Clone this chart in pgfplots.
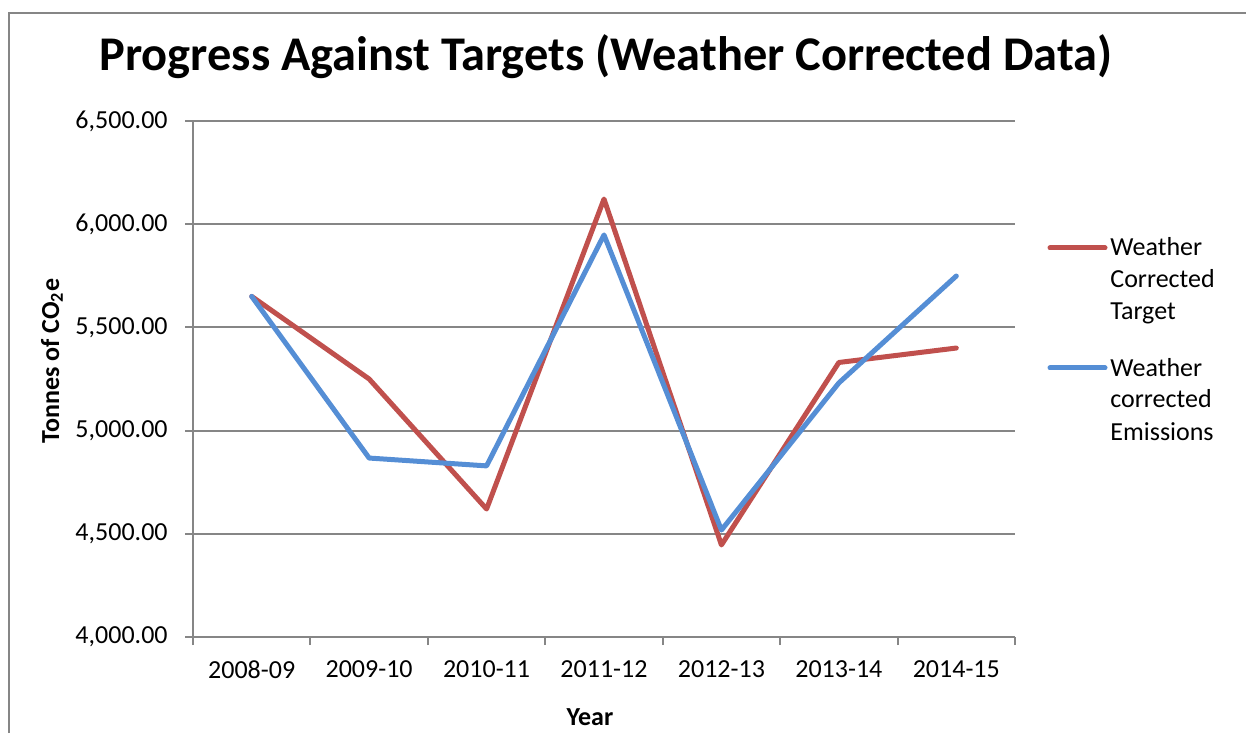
\documentclass[border=0pt]{standalone}
\usepackage{fontspec}
\setmainfont{Carlito}
\usepackage{pgfplots}
\pgfplotsset{compat=1.18}
\definecolor{redl}{RGB}{192,80,77}
\definecolor{bluel}{RGB}{85,142,213}
\definecolor{gridg}{RGB}{134,134,134}
\begin{document}
\begin{tikzpicture}[x=0.5pt,y=0.5pt]
\useasboundingbox (0,0) rectangle (1246,733);
\draw[gridg, line width=1pt] (9,0) -- (9,720) -- (1246,720);
\begin{axis}[at={(96.5pt,48pt)}, anchor=south west, scale only axis,
  width=411pt, height=258pt,
  xmin=-0.5, xmax=6.5, ymin=4000, ymax=6500,
  axis x line*=bottom, axis y line*=left,
  axis line style={gridg, line width=1pt, -},
  xtick={0,...,6},
  xticklabels={2008-09,2009-10,2010-11,2011-12,2012-13,2013-14,2014-15},
  major x tick style={draw=none},
  minor xtick={-0.5,0.5,1.5,2.5,3.5,4.5,5.5,6.5},
  minor x tick style={gridg, line width=1pt},
  minor tick length=4pt,
  ytick={4000,4500,5000,5500,6000,6500},
  ymajorgrids, grid style={gridg, line width=1pt},
  y tick style={gridg, line width=1pt},
  major tick length=4pt,
  tick align=outside,
  tick label style={font=\fontsize{13}{16}\selectfont},
  yticklabel style={anchor=east, inner sep=0pt, xshift=-8.5pt},
  xticklabel style={anchor=north, inner sep=0pt, yshift=-7.5pt},
  /pgf/number format/.cd, fixed, fixed zerofill, precision=2, 1000 sep={,}, assume math mode=true,
]
\addplot[redl, line width=2.5pt, line join=round, line cap=round] coordinates {
(0,5650) (1,5250) (2,4620) (3,6122) (4,4446) (5,5330) (6,5400)};
\addplot[bluel, line width=2.5pt, line join=round, line cap=round] coordinates {
(0,5650) (1,4867) (2,4829) (3,5948) (4,4518) (5,5231) (6,5749)};
\end{axis}
\node[font=\fontsize{24.2}{29}\selectfont\bfseries] at (606,676) {Progress Against Targets (Weather Corrected Data)};
\node[font=\fontsize{13}{16}\selectfont\bfseries, anchor=base, inner sep=0pt] at (590,8) {Year};
\node[font=\fontsize{13}{16}\selectfont\bfseries, rotate=90, inner sep=0pt] at (52,372) {Tonnes of CO\textsubscript{2}e};
\draw[redl, line width=2.5pt, line cap=round] (1050,485) -- (1105,485);
\draw[bluel, line width=2.5pt, line cap=round] (1050,365) -- (1105,365);
\begin{scope}[every node/.style={font=\fontsize{13}{16}\selectfont, anchor=base west, inner sep=0pt}]
\node at (1110,477) {Weather};
\node at (1110,445) {Corrected};
\node at (1110,413) {Target};
\node at (1110,356) {Weather};
\node at (1110,325) {corrected};
\node at (1110,292) {Emissions};
\end{scope}
\end{tikzpicture}
\end{document}
